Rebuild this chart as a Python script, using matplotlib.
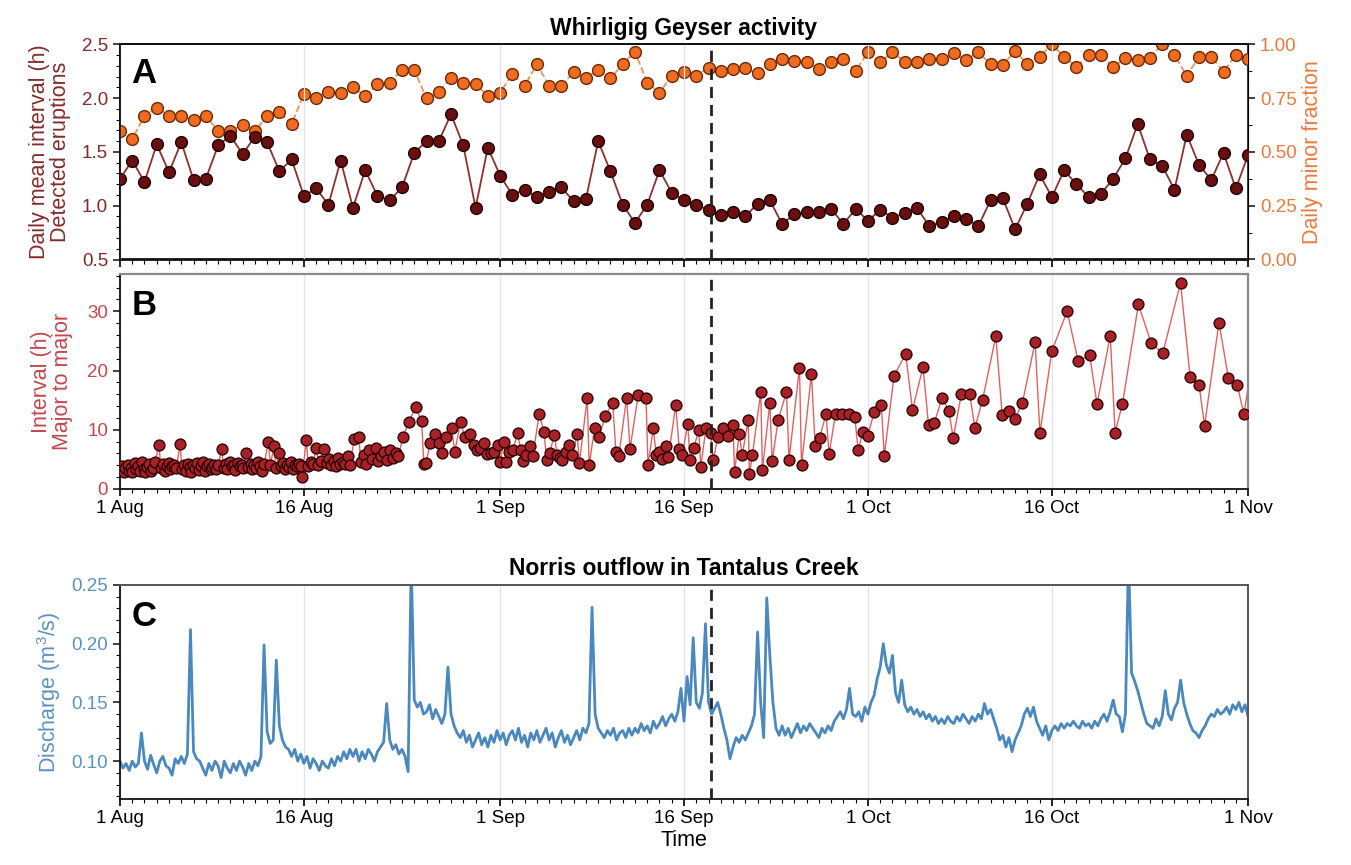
import numpy as np
import pandas as pd
import matplotlib
matplotlib.use('Agg')
import matplotlib.pyplot as plt
import matplotlib.dates as mdates
from matplotlib.ticker import MultipleLocator, FuncFormatter

plt.rcParams['font.family'] = ['Liberation Sans', 'DejaVu Sans']
plt.rcParams['mathtext.fontset'] = 'custom'
plt.rcParams['mathtext.rm'] = 'Liberation Sans'

start = pd.Timestamp('2021-08-01')
end = pd.Timestamp('2021-11-01')
switch_time = pd.Timestamp('2021-09-18 05:00')

# daily values, Aug 1 .. Nov 1
mean_interval = [
    1.25, 1.42, 1.22, 1.57, 1.31, 1.59, 1.24, 1.25, 1.56, 1.65,
    1.48, 1.64, 1.59, 1.32, 1.43, 1.09, 1.16, 1.01, 1.42, 0.98,
    1.33, 1.09, 1.05, 1.17, 1.49, 1.60, 1.60, 1.85, 1.56, 0.98,
    1.54, 1.28, 1.10, 1.15, 1.08, 1.13, 1.17, 1.04, 1.06, 1.60,
    1.32, 1.01, 0.84, 1.01, 1.33, 1.12, 1.05, 1.01, 0.96, 0.91,
    0.94, 0.90, 1.02, 1.05, 0.83, 0.92, 0.94, 0.94, 0.97, 0.83,
    0.97, 0.86, 0.96, 0.89, 0.93, 0.98, 0.81, 0.85, 0.90, 0.88,
    0.81, 1.05, 1.07, 0.78, 1.02, 1.29, 1.08, 1.33, 1.20, 1.08,
    1.11, 1.25, 1.44, 1.76, 1.43, 1.37, 1.15, 1.66, 1.38, 1.24,
    1.49, 1.16, 1.47,
]
minor_fraction = [
    0.597, 0.560, 0.667, 0.705, 0.667, 0.667, 0.647, 0.667, 0.597, 0.597,
    0.625, 0.597, 0.667, 0.684, 0.630, 0.769, 0.752, 0.780, 0.775, 0.800,
    0.760, 0.814, 0.822, 0.881, 0.881, 0.749, 0.780, 0.842, 0.819, 0.814,
    0.761, 0.775, 0.861, 0.808, 0.907, 0.808, 0.808, 0.870, 0.842, 0.881,
    0.842, 0.907, 0.966, 0.822, 0.775, 0.854, 0.873, 0.854, 0.891, 0.877,
    0.884, 0.888, 0.865, 0.908, 0.930, 0.922, 0.919, 0.884, 0.919, 0.930,
    0.877, 0.963, 0.916, 0.963, 0.919, 0.916, 0.930, 0.930, 0.958, 0.927,
    0.963, 0.908, 0.904, 0.969, 0.908, 0.942, 1.000, 0.942, 0.896, 0.950,
    0.950, 0.893, 0.938, 0.927, 0.938, 1.000, 0.950, 0.854, 0.942, 0.942,
    0.873, 0.950, 0.930,
]
days = pd.date_range(start, periods=len(mean_interval), freq='D')

# hours since the previous major eruption, in eruption order
major_interval = [
    3.2, 3.8, 2.9, 3.5, 4.1, 3.0, 3.6, 2.8, 4.4, 3.3, 3.9, 3.1, 4.6, 3.4, 2.9,
    3.7, 4.2, 3.0, 3.6, 4.5, 7.5,
    3.6, 4.2, 3.1, 3.9, 4.4, 3.3, 3.8, 4.1, 3.5, 7.6,
    3.4, 4.0, 3.1, 4.3, 3.7, 2.9, 4.1, 3.5, 4.4, 3.2, 3.8, 4.6, 3.0, 3.9, 4.2,
    3.4, 3.7, 4.0, 3.3, 4.1, 6.7,
    3.6, 4.2, 3.3, 4.5, 3.8, 4.0, 3.2, 4.4, 3.9, 4.1, 3.5, 6.0, 3.7, 4.3, 3.4,
    4.0, 3.6, 4.5, 3.9, 3.1, 4.2, 8.0,
    4.1, 7.2, 3.6, 6.0, 3.9, 4.4, 3.3, 4.0, 3.7, 4.5, 3.4, 4.1, 3.8, 4.2, 3.9,
    2.1, 8.3,
    3.8, 4.6, 4.2, 7.0, 4.0, 4.8, 6.8, 4.4, 5.0, 4.1, 4.7, 3.9, 5.2, 4.3, 4.5,
    4.3, 5.6, 4.0, 8.4,
    8.8, 4.6, 5.8, 4.2, 6.6, 5.0, 6.9, 4.8, 5.5, 6.2, 4.9, 6.5, 5.3, 6.0, 5.6,
    8.8, 11.3, 13.9,
    11.4, 4.3, 4.4, 7.7, 9.3, 7.7, 6.1, 8.7, 10.3, 6.3, 11.3, 8.7, 9.3, 7.5,
    6.6, 6.9, 7.7, 5.9, 6.1, 6.3, 7.4, 4.6, 7.9, 4.6, 6.2, 6.5, 9.4, 6.5, 4.8,
    5.7, 7.2, 5.5, 12.6,
    9.6, 4.9, 6.0, 9.2, 5.7, 5.2, 4.9, 6.3, 7.5, 5.7, 9.3, 4.4, 15.3,
    4.0, 10.3, 8.7, 12.3, 14.6, 6.3, 5.5, 15.4, 6.8, 15.8,
    15.4, 4.0, 10.3, 5.7, 6.2, 5.1, 7.3, 5.4, 14.2,
    6.8, 5.7, 10.9, 4.9, 7.0, 9.9, 3.7, 10.3, 9.4, 4.9, 8.7,
    10.3, 8.9, 10.8, 2.9, 9.3, 5.7, 11.6, 2.6, 5.7, 16.4, 3.2, 14.5, 4.7, 11.6,
    16.4, 4.9, 20.5, 4.0, 19.4, 7.3, 8.6, 12.7, 5.9, 12.7, 12.7, 12.7, 12.2,
    6.6, 9.6, 8.9, 13.0, 14.1, 5.5, 19.1, 22.8, 13.4, 20.6, 10.8, 11.1, 15.4,
    13.2, 8.6, 16.1, 16.1, 10.3, 15.1, 25.8, 12.5, 13.2, 11.8, 14.6, 24.8,
    9.4, 23.3, 30.0, 21.6, 22.6, 14.3, 25.9, 9.5, 14.4, 31.2, 24.7, 22.9, 34.8,
    18.9, 17.5, 10.7, 28.1, 18.7, 17.5, 12.6, 28.0,
]
first_major = pd.Timestamp('2021-08-01 00:30')
elapsed = np.cumsum(major_interval) - major_interval[0]
major_times = first_major + pd.to_timedelta(elapsed, unit='h')

# 6-hourly discharge (m3/s), four values per day from Aug 1
discharge = [
    0.100, 0.094, 0.098, 0.092,  0.100, 0.095, 0.098, 0.124,
    0.100, 0.093, 0.105, 0.097,  0.090, 0.100, 0.104, 0.096,
    0.094, 0.088, 0.102, 0.098,  0.104, 0.098, 0.106, 0.212,
    0.108, 0.102, 0.100, 0.094,
    0.088, 0.098, 0.092, 0.100,  0.096, 0.086, 0.100, 0.094,
    0.090, 0.098, 0.092, 0.100,  0.095, 0.088, 0.098, 0.092,
    0.100, 0.096, 0.104, 0.199,  0.125, 0.115, 0.118, 0.186,
    0.130, 0.118, 0.112, 0.110,
    0.104, 0.110, 0.100, 0.106,  0.098, 0.104, 0.094, 0.102,
    0.098, 0.092, 0.100, 0.096,  0.094, 0.102, 0.096, 0.104,
    0.100, 0.108, 0.102, 0.110,  0.104, 0.110, 0.100, 0.108,
    0.102, 0.110, 0.106, 0.100,
    0.108, 0.112, 0.116, 0.149,  0.118, 0.110, 0.114, 0.106,
    0.110, 0.104, 0.091, 0.270,  0.152, 0.146, 0.150, 0.140,
    0.142, 0.148, 0.136, 0.144,  0.138, 0.132, 0.140, 0.180,
    0.140, 0.130, 0.124, 0.120,
    0.126, 0.116, 0.122, 0.112,  0.118, 0.124, 0.114, 0.120,
    0.112, 0.122, 0.116, 0.126,  0.118, 0.124, 0.114, 0.122,
    0.126, 0.118, 0.128, 0.116,  0.122, 0.112, 0.124, 0.118,
    0.126, 0.116, 0.122, 0.128,
    0.118, 0.124, 0.112, 0.120,  0.126, 0.116, 0.122, 0.114,
    0.120, 0.126, 0.118, 0.128,  0.124, 0.132, 0.231, 0.140,
    0.128, 0.124, 0.120, 0.126,  0.122, 0.128, 0.118, 0.124,
    0.126, 0.120, 0.128, 0.122,
    0.128, 0.124, 0.132, 0.126,  0.130, 0.124, 0.134, 0.128,
    0.132, 0.138, 0.130, 0.136,  0.140, 0.134, 0.142, 0.162,
    0.134, 0.172, 0.148, 0.205,  0.150, 0.145, 0.158, 0.217,
    0.150, 0.140, 0.145, 0.150,
    0.140, 0.128, 0.118, 0.102,  0.112, 0.120, 0.116, 0.122,
    0.118, 0.124, 0.130, 0.140,  0.210, 0.150, 0.120, 0.239,
    0.190, 0.150, 0.128, 0.122,  0.130, 0.122, 0.128, 0.120,
    0.126, 0.132, 0.124, 0.130,
    0.126, 0.132, 0.128, 0.124,  0.120, 0.128, 0.124, 0.130,
    0.126, 0.134, 0.138, 0.142,  0.136, 0.144, 0.162, 0.140,
    0.138, 0.142, 0.134, 0.146,  0.140, 0.150, 0.156, 0.170,
    0.180, 0.200, 0.182, 0.175,
    0.190, 0.158, 0.150, 0.169,  0.148, 0.142, 0.146, 0.140,
    0.144, 0.138, 0.142, 0.136,  0.140, 0.134, 0.138, 0.132,
    0.136, 0.132, 0.138, 0.134,  0.132, 0.138, 0.134, 0.140,
    0.136, 0.132, 0.138, 0.134,
    0.140, 0.136, 0.149, 0.140,  0.144, 0.136, 0.128, 0.118,
    0.122, 0.112, 0.120, 0.108,  0.118, 0.124, 0.130, 0.140,
    0.145, 0.138, 0.146, 0.134,  0.128, 0.122, 0.130, 0.118,
    0.126, 0.130, 0.126, 0.132,
    0.128, 0.132, 0.130, 0.134,  0.130, 0.128, 0.134, 0.130,
    0.132, 0.128, 0.134, 0.130,  0.136, 0.140, 0.134, 0.142,
    0.152, 0.140, 0.138, 0.125,  0.140, 0.275, 0.175, 0.168,
    0.160, 0.150, 0.140, 0.132,
    0.130, 0.128, 0.136, 0.130,  0.138, 0.160, 0.140, 0.135,
    0.145, 0.150, 0.169, 0.150,  0.140, 0.132, 0.126, 0.124,
    0.120, 0.126, 0.130, 0.136,  0.140, 0.138, 0.144, 0.140,
    0.142, 0.146, 0.140, 0.148,
    0.144, 0.150, 0.142, 0.148,  0.138,
]
flow_times = pd.date_range(start, periods=len(discharge), freq='6h')

DARK = '#6a0f0f'
ORANGE = '#ee6b1f'
RED = '#a82127'
BLUE = '#4a88bd'
C_LEFT_A = '#842a2a'
C_RIGHT_A = '#ec7a3d'
C_B = '#c4474c'
C_C = '#5b92c4'
TICK_FS = 13.5
LABEL_FS = 15.5


def date_label(x, pos):
    d = mdates.num2date(x)
    return f"{d.day} {d:%b}"


def style_time_axis(ax, show_labels=True):
    ax.set_xlim(start, end)
    ax.xaxis.set_major_locator(mdates.DayLocator(bymonthday=[1, 16]))
    ax.xaxis.set_minor_locator(mdates.DayLocator())
    ax.xaxis.set_major_formatter(FuncFormatter(date_label))
    ax.grid(axis='x', color='#e2e2e2', lw=0.9)
    ax.set_axisbelow(True)
    ax.tick_params(axis='x', which='major', length=5, width=1.2,
                   labelsize=TICK_FS, pad=3)
    ax.tick_params(axis='x', which='minor', length=3, width=0.8)
    ax.tick_params(axis='y', which='major', length=5, width=1.2, labelsize=TICK_FS)
    ax.tick_params(axis='y', which='minor', length=3, width=0.8)
    if not show_labels:
        ax.tick_params(axis='x', labelbottom=False)
    for s in ['left', 'bottom']:
        ax.spines[s].set_linewidth(1.3)
        ax.spines[s].set_color('#111111')


fig = plt.figure(figsize=(13.51, 8.65), dpi=100)
x0, w = 0.0888, 0.835

# ---------------- Panel A ----------------
axA = fig.add_axes([x0, 0.700, w, 0.2488])
axA2 = axA.twinx()
axA.set_zorder(axA2.get_zorder() + 1)
axA.patch.set_visible(False)

axA2.plot(days, minor_fraction, '--', color='#f39457', lw=1.3, zorder=2)
axA2.plot(days, minor_fraction, 'o', ms=8.5, mfc=ORANGE, mec='#6b2a05',
          mew=1.0, zorder=3)
axA.plot(days, mean_interval, '-', color='#8e3030', lw=1.3, zorder=2)
axA.plot(days, mean_interval, 'o', ms=8.5, mfc=DARK, mec='#1e0000',
         mew=1.0, zorder=3)

style_time_axis(axA, show_labels=False)
axA.set_ylim(0.5, 2.5)
axA.yaxis.set_major_locator(MultipleLocator(0.5))
axA.yaxis.set_minor_locator(MultipleLocator(0.1))
axA.yaxis.set_major_formatter(FuncFormatter(lambda v, p: f"{v:.1f}"))
axA.tick_params(axis='y', colors='#222222', labelcolor=C_LEFT_A)
axA.set_ylabel('Daily mean interval (h)\nDetected eruptions', color=C_LEFT_A,
               fontsize=LABEL_FS, labelpad=8, linespacing=1.0)

axA2.set_ylim(0, 1)
axA2.yaxis.set_major_locator(MultipleLocator(0.25))
axA2.yaxis.set_minor_locator(MultipleLocator(0.125))
axA2.yaxis.set_major_formatter(FuncFormatter(lambda v, p: f"{v:.2f}"))
axA2.tick_params(axis='y', which='major', length=5, width=1.2,
                 labelsize=TICK_FS, colors='#222222', labelcolor=C_RIGHT_A)
axA2.tick_params(axis='y', which='minor', length=3, width=0.8, colors='#222222')
axA2.set_ylabel('Daily minor fraction', color=C_RIGHT_A, fontsize=LABEL_FS,
                labelpad=4)
for s in axA2.spines.values():
    s.set_linewidth(1.3)
    s.set_color('#111111')
axA.spines['top'].set_linewidth(1.3)
axA.spines['top'].set_color('#111111')
axA.axvline(switch_time, color='#222222', ls=(0, (4, 2.5)), lw=2, zorder=4)
axA.set_title('Whirligig Geyser activity', fontsize=16.5, fontweight='bold',
              pad=7)
axA.text(0.01, 0.94, 'A', transform=axA.transAxes, fontsize=25,
         fontweight='bold', va='top', ha='left')

# ---------------- Panel B ----------------
axB = fig.add_axes([x0, 0.4347, w, 0.2485])
axB.plot(major_times, major_interval, '-', color='#df6262', lw=1.0, zorder=2)
axB.plot(major_times, major_interval, 'o', ms=7.8, mfc=RED, mec='#2e0606',
         mew=1.0, zorder=3)
style_time_axis(axB)
axB.set_ylim(0, 36.3)
axB.yaxis.set_major_locator(MultipleLocator(10))
axB.yaxis.set_minor_locator(MultipleLocator(2))
axB.tick_params(axis='y', colors='#222222', labelcolor=C_B)
axB.set_ylabel('Interval (h)\nMajor to major', color=C_B, fontsize=LABEL_FS,
               labelpad=10, linespacing=1.0)
for s in ['top', 'right']:
    axB.spines[s].set_color('#8a8a8a')
    axB.spines[s].set_linewidth(1.6)
axB.axvline(switch_time, color='#222222', ls=(0, (4, 2.5)), lw=2, zorder=4)
axB.text(0.01, 0.93, 'B', transform=axB.transAxes, fontsize=25,
         fontweight='bold', va='top', ha='left')

# ---------------- Panel C ----------------
axC = fig.add_axes([x0, 0.0760, w, 0.2477])
axC.plot(flow_times, discharge, '-', color=BLUE, lw=2.0, zorder=2)
style_time_axis(axC)
axC.set_ylim(0.0675, 0.25)
axC.yaxis.set_major_locator(MultipleLocator(0.05))
axC.yaxis.set_minor_locator(MultipleLocator(0.01))
axC.yaxis.set_major_formatter(FuncFormatter(lambda v, p: f"{v:.2f}"))
axC.tick_params(axis='y', colors='#222222', labelcolor=C_C)
axC.set_ylabel('Discharge (m$^3$/s)', color=C_C, fontsize=LABEL_FS, labelpad=6)
for s in ['top', 'right']:
    axC.spines[s].set_color('#555555')
    axC.spines[s].set_linewidth(1.4)
axC.axvline(switch_time, color='#222222', ls=(0, (4, 2.5)), lw=2, zorder=4)
axC.set_title('Norris outflow in Tantalus Creek', fontsize=16.5,
              fontweight='bold', pad=7)
axC.set_xlabel('Time', fontsize=LABEL_FS, labelpad=2)
axC.text(0.01, 0.93, 'C', transform=axC.transAxes, fontsize=25,
         fontweight='bold', va='top', ha='left')

fig.savefig('out.png', dpi=100, facecolor='white')
